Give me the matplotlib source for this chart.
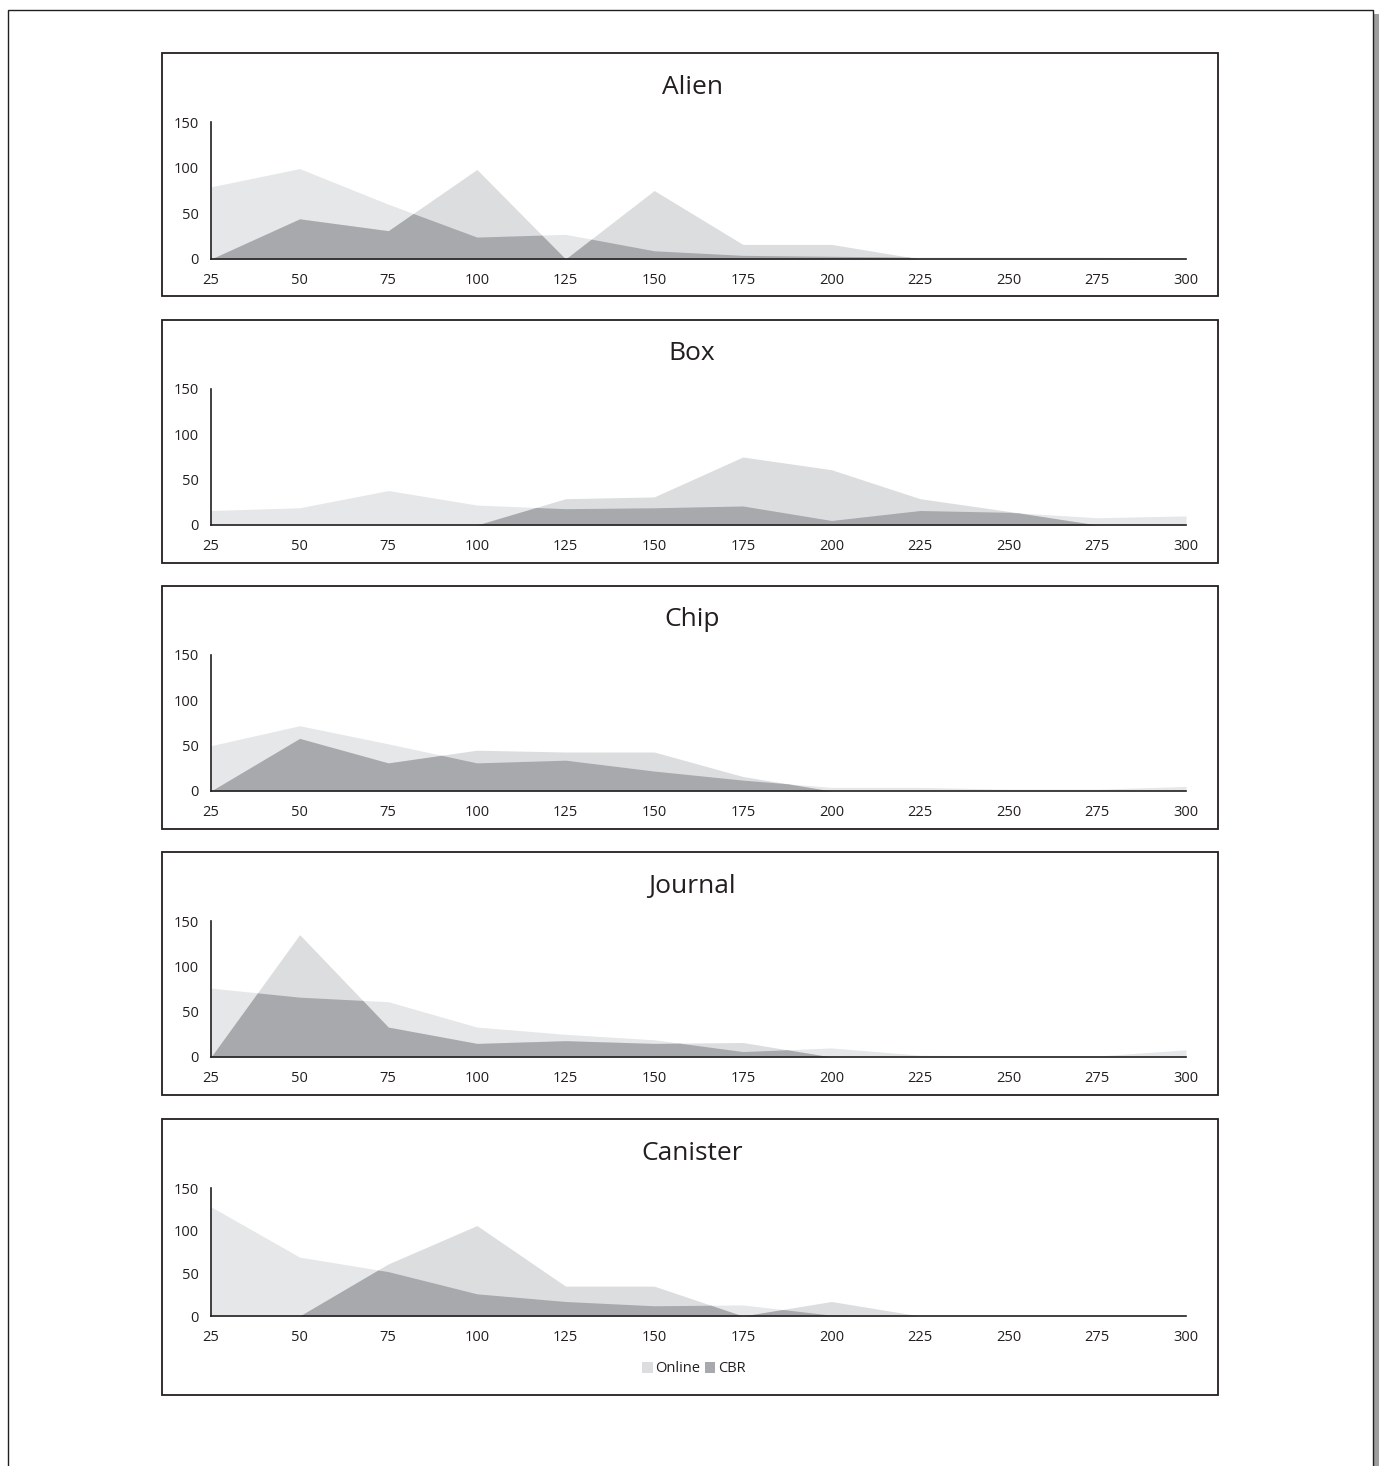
import numpy as np
import matplotlib.pyplot as plt
from matplotlib.patches import Rectangle, Patch

plt.rcParams['font.family'] = ['Open Sans', 'DejaVu Sans']

sizes = [25, 50, 75, 100, 125, 150, 175, 200, 225, 250, 275, 300]
titles = ['Alien', 'Box', 'Chip', 'Journal', 'Canister']

alien_online = [79, 99, 60, 24, 27, 9, 4, 3, 2, 2, 2, 1]
alien_cbr = [0, 44, 31, 98, 0, 75, 16, 16, 0, 0, 0, 0]
box_online = [16, 19, 38, 22, 18, 19, 21, 5, 16, 14, 8, 10]
box_cbr = [0, 0, 0, 0, 29, 31, 75, 61, 29, 15, 0, 0]
chip_online = [50, 72, 52, 31, 34, 22, 12, 4, 4, 2, 2, 5]
chip_cbr = [0, 58, 31, 45, 43, 43, 16, 0, 0, 0, 0, 0]
journal_online = [76, 66, 61, 33, 25, 19, 6, 10, 2, 1, 1, 8]
journal_cbr = [0, 135, 33, 15, 18, 15, 16, 0, 0, 0, 0, 0]
canister_online = [128, 69, 52, 26, 17, 12, 13, 1, 0, 0, 0, 0]
canister_cbr = [0, 0, 61, 106, 35, 35, 0, 17, 0, 0, 0, 0]

online = [alien_online, box_online, chip_online, journal_online, canister_online]
cbr = [alien_cbr, box_cbr, chip_cbr, journal_cbr, canister_cbr]

c_online = '#e6e7e8'
c_cbr = '#dcdddf'
c_both = '#a7a9ac'
ink = '#231f20'

W, H = 1380, 1466
fig = plt.figure(figsize=(W / 100, H / 100), dpi=100)

def fx(px):
    return px / W

def fy(py):
    return 1 - py / H

# page border with a little shadow on the right (kept behind the axes)
fig.patches.append(Rectangle((fx(1373), fy(1480)), fx(6), fy(14) - fy(1480),
                             transform=fig.transFigure, facecolor='#9d9d9d',
                             edgecolor='none', zorder=-30))
fig.patches.append(Rectangle((fx(8), fy(1480)), fx(1365), fy(10) - fy(1480),
                             transform=fig.transFigure, facecolor='white',
                             edgecolor=ink, linewidth=1.0, zorder=-20))

# panel boxes: (frame top, frame bottom, axis top, axis bottom)
panels = [(53, 296, 122, 259), (320, 563, 389, 525), (586, 829, 655, 791),
          (852, 1095, 921, 1057), (1119, 1395, 1188, 1316)]

xs = np.linspace(sizes[0], sizes[-1], 3000)

for i, (ftop, fbot, atop, abot) in enumerate(panels):
    fig.patches.append(Rectangle((fx(162), fy(fbot)), fx(1218 - 162), fy(ftop) - fy(fbot),
                                 transform=fig.transFigure, facecolor='none',
                                 edgecolor=ink, linewidth=1.3, zorder=-10))
    ax = fig.add_axes([fx(211), fy(abot), fx(1186 - 211), (abot - atop) / H])
    ax.patch.set_alpha(0)
    a = np.interp(xs, sizes, online[i])
    b = np.interp(xs, sizes, cbr[i])
    ax.fill_between(xs, 0, a, color=c_online, linewidth=0)
    ax.fill_between(xs, 0, b, color=c_cbr, linewidth=0)
    # where both series overlap the area shows darker
    ax.fill_between(xs, 0, np.minimum(a, b), color=c_both, linewidth=0)
    ax.set_xlim(25, 300)
    ax.set_ylim(0, 150)
    ax.set_xticks(sizes)
    ax.set_yticks([0, 50, 100, 150])
    ax.tick_params(length=0, labelsize=10.5, colors=ink)
    ax.tick_params(axis='x', pad=10)
    ax.tick_params(axis='y', pad=9)
    for s in ['top', 'right']:
        ax.spines[s].set_visible(False)
    for s in ['left', 'bottom']:
        ax.spines[s].set_color(ink)
        ax.spines[s].set_linewidth(1.2)
    fig.text(fx(692), fy(ftop + 34), titles[i], ha='center', va='center',
             fontsize=19, color=ink)

handles = [Patch(facecolor=c_cbr, edgecolor='none', label='Online'),
           Patch(facecolor=c_both, edgecolor='none', label='CBR')]
fig.legend(handles=handles, loc='center', bbox_to_anchor=(fx(694), fy(1369)),
           ncol=2, frameon=False, fontsize=10.5, handlelength=0.7, handleheight=0.7,
           handletextpad=0.2, columnspacing=0.3, labelcolor=ink)

fig.savefig('out.png', dpi=100)
